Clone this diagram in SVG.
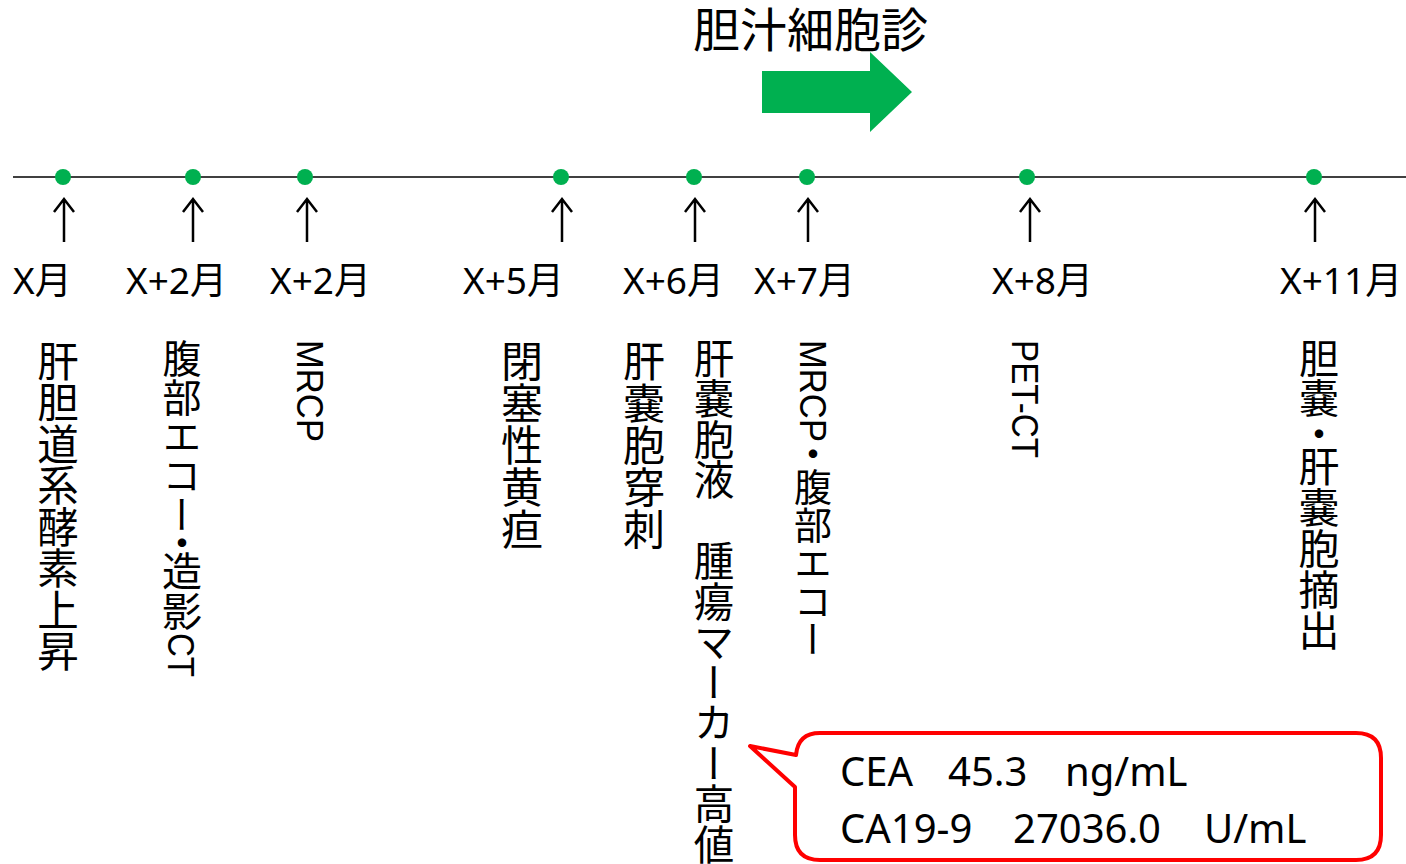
<svg xmlns="http://www.w3.org/2000/svg" width="1406" height="864" viewBox="0 0 1406 864">
<defs>
<style>
.lbl{font-family:"Noto Sans","Noto Sans CJK JP",sans-serif;font-size:37px;fill:#000}
.vt{font-family:"Noto Sans CJK JP",sans-serif;font-size:40px;fill:#000;writing-mode:vertical-rl}
.lat{font-family:"Liberation Sans","Noto Sans",sans-serif;font-size:36px;fill:#000}
.ttl{font-family:"Noto Sans CJK JP",sans-serif;font-size:47px;fill:#000}
.cal{font-family:"Noto Sans","Noto Sans CJK JP",sans-serif;font-size:40px;fill:#000}
.dot{fill:#00B050}
.up{stroke:#000;stroke-width:2.5;fill:none}
</style>
</defs>
<rect width="1406" height="864" fill="#fff"/>
<g id="title">
<text class="ttl" x="693" y="47">胆汁細胞診</text>
<polygon points="762,71 870,71 870,52 912,92 870,132 870,113 762,113" fill="#00B050"/>
</g>
<g id="connectors">
<line x1="13" y1="177" x2="1406" y2="177" stroke="#000" stroke-width="1.6"/>
<path class="up" d="M64,242V199M54,212L64,199L74,212"/>
<path class="up" d="M193,242V199M183,212L193,199L203,212"/>
<path class="up" d="M307,242V199M297,212L307,199L317,212"/>
<path class="up" d="M562,242V199M552,212L562,199L572,212"/>
<path class="up" d="M695,242V199M685,212L695,199L705,212"/>
<path class="up" d="M808,242V199M798,212L808,199L818,212"/>
<path class="up" d="M1030,242V199M1020,212L1030,199L1040,212"/>
<path class="up" d="M1315,242V199M1305,212L1315,199L1325,212"/>
</g>
<g id="n1"><circle class="dot" cx="63" cy="177" r="8"/><text class="lbl" x="13" y="294">X月</text>
<text class="vt" x="58" y="340" style="font-size:41.5px">肝胆道系酵素上昇</text></g>
<g id="n2"><circle class="dot" cx="193" cy="177" r="8"/><text class="lbl" x="126" y="294">X+2月</text>
<text class="vt" x="182" y="339" style="font-size:39px">腹部エコー</text>
<text class="vt" x="182" y="523">・</text>
<text class="vt" x="182" y="551">造影</text>
<text class="lat" transform="translate(168,633) rotate(90)" textLength="44" lengthAdjust="spacingAndGlyphs">CT</text></g>
<g id="n3"><circle class="dot" cx="305" cy="177" r="8"/><text class="lbl" x="270" y="294">X+2月</text>
<text class="lat" transform="translate(297,340) rotate(90)" textLength="102" lengthAdjust="spacingAndGlyphs">MRCP</text></g>
<g id="n4"><circle class="dot" cx="561" cy="177" r="8"/><text class="lbl" x="463" y="294">X+5月</text>
<text class="vt" x="522" y="340" style="font-size:42px">閉塞性黄疸</text></g>
<g id="n5"><circle class="dot" cx="694" cy="177" r="8"/><text class="lbl" x="623" y="294">X+6月</text>
<text class="vt" x="644" y="340" style="font-size:42px">肝嚢胞穿刺</text>
<text class="vt" x="714" y="338" style="font-size:40.5px">肝嚢胞液　腫瘍マーカー高値</text></g>
<g id="n6"><circle class="dot" cx="807" cy="177" r="8"/><text class="lbl" x="754" y="294">X+7月</text>
<text class="lat" transform="translate(800,340) rotate(90)" textLength="102" lengthAdjust="spacingAndGlyphs">MRCP</text>
<text class="vt" x="813" y="434">・</text>
<text class="vt" x="813" y="468" style="font-size:38px">腹部エコー</text></g>
<g id="n7"><circle class="dot" cx="1027" cy="177" r="8"/><text class="lbl" x="992" y="294">X+8月</text>
<text class="lat" transform="translate(1012,340) rotate(90)" textLength="118" lengthAdjust="spacingAndGlyphs">PET-CT</text></g>
<g id="n8"><circle class="dot" cx="1314" cy="177" r="8"/><text class="lbl" x="1280" y="294">X+11月</text>
<text class="vt" x="1319" y="338">胆嚢</text>
<text class="vt" x="1319" y="414">・</text>
<text class="vt" x="1319" y="446" style="font-size:41px">肝嚢胞摘出</text></g>
<g id="callout">
<path d="M820,733 H1356 Q1381,733 1381,758 V835 Q1381,860 1356,860 H820 Q795,860 795,835 V787 L750,746 L796,755 Q798,733 820,733 Z" fill="#fff" stroke="#FF0000" stroke-width="4" stroke-linejoin="round"/>
<text class="cal" x="840" y="786">CEA</text><text class="cal" x="948" y="786">45.3</text><text class="cal" x="1065" y="786">ng/mL</text>
<text class="cal" x="840" y="843">CA19-9</text><text class="cal" x="1013" y="843">27036.0</text><text class="cal" x="1204" y="843">U/mL</text>
</g>
</svg>
